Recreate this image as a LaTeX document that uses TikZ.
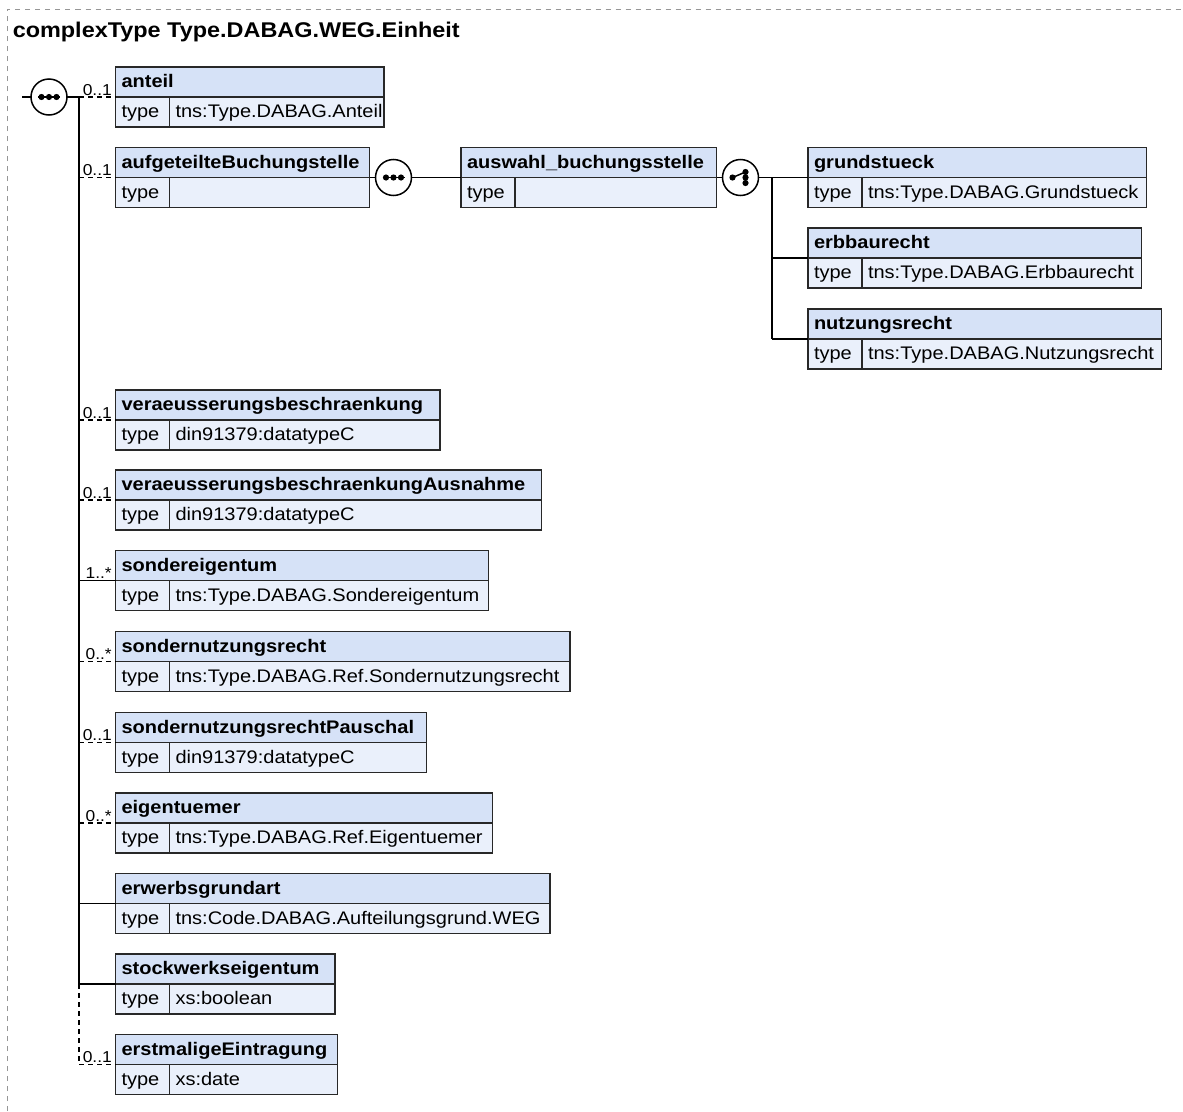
\documentclass[tikz,border=0pt]{standalone}
\usepackage{fontspec}
\setmainfont{Liberation Sans}[FakeStretch=1.1]
\definecolor{hdrblue}{RGB}{214,226,247}
\definecolor{bodyblue}{RGB}{234,240,251}
\definecolor{framegray}{RGB}{150,150,150}
\definecolor{boxline}{RGB}{40,40,40}

\begin{document}
\begin{tikzpicture}[x=1pt, y=-1pt, line width=1.5pt,
  every node/.style={font=\fontsize{18.2}{22}\selectfont},
  hdr/.style={draw=boxline, fill=hdrblue, anchor=north west, minimum height=30pt,
    inner xsep=6pt, inner ysep=0pt, outer sep=0pt, text height=14pt, text depth=3pt,
    font=\fontsize{18.2}{22}\selectfont\bfseries},
  tcell/.style={hdr, fill=bodyblue, text width=42pt, font=\fontsize{18.2}{22}\selectfont},
  val/.style={tcell},
  occ/.style={font=\fontsize{15.8}{18}\selectfont, inner sep=1pt, anchor=south east, xshift=-2pt},
  opt/.style={dash pattern=on 5pt off 4pt},
  seq/.style={circle, draw, fill=white, minimum size=36pt, inner sep=0pt, outer sep=0pt,
    path picture={
      \draw[black, line width=1.5pt] ([xshift=-11pt]path picture bounding box.center)
        -- ([xshift=11pt]path picture bounding box.center);
      \foreach \dx in {-7.5,0,7.5}
        \fill[black] ([xshift=\dx pt]path picture bounding box.center) circle (3.1pt);
    }},
  chc/.style={circle, draw, fill=white, minimum size=36pt, inner sep=0pt, outer sep=0pt,
    path picture={
      \draw[black, line width=1.5pt] ([xshift=-8pt]path picture bounding box.center)
        -- ([xshift=5pt,yshift=5.5pt]path picture bounding box.center);
      \fill[black] ([xshift=-8pt]path picture bounding box.center) circle (3.1pt);
      \foreach \dy in {-5.5,0,5.5}
        \fill[black] ([xshift=5pt,yshift=\dy pt]path picture bounding box.center) circle (3.1pt);
    }}]
  \useasboundingbox (0,0) rectangle (1183,1111);

  % frame and title
  \draw[framegray, line width=1pt, dash pattern=on 5pt off 5pt] (7,1111) -- (7,9.5) -- (1183,9.5);
  \node[anchor=base west, inner sep=0pt, font=\fontsize{21.3}{26}\selectfont\bfseries] (ttl) at (12,37)
    {complexType Type.DABAG.WEG.Einheit};

  % sequence
  \coordinate (cin) at (22,97);
  \node[seq] (seq1) at (49,97) {};
  \coordinate (trk) at (79,97);

  % elements
  \node[hdr, text width=256.5pt] (anteil) at (115.5,67) {anteil};
  \node[tcell] (anteil-t) at (anteil.south west) {type};
  \node[val, text width=202.5pt] (anteil-v) at (anteil-t.north east) {tns:Type.DABAG.Anteil};

  \node[hdr, text width=242pt] (aufg) at (115.5,147.5) {aufgeteilteBuchungstelle};
  \node[tcell] (aufg-t) at (aufg.south west) {type};
  \node[val, text width=188pt] (aufg-v) at (aufg-t.north east) {};

  \node[seq] (seq2) at (393.5,177.5) {};

  \node[hdr, text width=243.5pt] (ausw) at (461,147.5) {auswahl\_buchungsstelle};
  \node[tcell] (ausw-t) at (ausw.south west) {type};
  \node[val, text width=189.5pt] (ausw-v) at (ausw-t.north east) {};

  \node[chc] (chc) at (740.5,177.5) {};
  \coordinate (ctrk) at (772,177.5);

  \node[hdr, text width=326.5pt] (grund) at (808,147.5) {grundstueck};
  \node[tcell] (grund-t) at (grund.south west) {type};
  \node[val, text width=272.5pt] (grund-v) at (grund-t.north east) {tns:Type.DABAG.Grundstueck};

  \node[hdr, text width=321.5pt] (erb) at (808,228) {erbbaurecht};
  \node[tcell] (erb-t) at (erb.south west) {type};
  \node[val, text width=267.5pt] (erb-v) at (erb-t.north east) {tns:Type.DABAG.Erbbaurecht};

  \node[hdr, text width=341.5pt] (nutz) at (808,309) {nutzungsrecht};
  \node[tcell] (nutz-t) at (nutz.south west) {type};
  \node[val, text width=287.5pt] (nutz-v) at (nutz-t.north east) {tns:Type.DABAG.Nutzungsrecht};

  \node[hdr, text width=312.5pt] (verae) at (115.5,390) {veraeusserungsbeschraenkung};
  \node[tcell] (verae-t) at (verae.south west) {type};
  \node[val, text width=258.5pt] (verae-v) at (verae-t.north east) {din91379:datatypeC};

  \node[hdr, text width=414pt] (veraeA) at (115.5,470) {veraeusserungsbeschraenkungAusnahme};
  \node[tcell] (veraeA-t) at (veraeA.south west) {type};
  \node[val, text width=360pt] (veraeA-v) at (veraeA-t.north east) {din91379:datatypeC};

  \node[hdr, text width=361pt] (sonder) at (115.5,550.5) {sondereigentum};
  \node[tcell] (sonder-t) at (sonder.south west) {type};
  \node[val, text width=307pt] (sonder-v) at (sonder-t.north east) {tns:Type.DABAG.Sondereigentum};

  \node[hdr, text width=442.5pt] (sondn) at (115.5,631.5) {sondernutzungsrecht};
  \node[tcell] (sondn-t) at (sondn.south west) {type};
  \node[val, text width=388.5pt] (sondn-v) at (sondn-t.north east) {tns:Type.DABAG.Ref.Sondernutzungsrecht};

  \node[hdr, text width=299pt] (sondnP) at (115.5,712.5) {sondernutzungsrechtPauschal};
  \node[tcell] (sondnP-t) at (sondnP.south west) {type};
  \node[val, text width=245pt] (sondnP-v) at (sondnP-t.north east) {din91379:datatypeC};

  \node[hdr, text width=365pt] (eigen) at (115.5,793) {eigentuemer};
  \node[tcell] (eigen-t) at (eigen.south west) {type};
  \node[val, text width=311pt] (eigen-v) at (eigen-t.north east) {tns:Type.DABAG.Ref.Eigentuemer};

  \node[hdr, text width=422.5pt] (erwerb) at (115.5,873.5) {erwerbsgrundart};
  \node[tcell] (erwerb-t) at (erwerb.south west) {type};
  \node[val, text width=368.5pt] (erwerb-v) at (erwerb-t.north east) {tns:Code.DABAG.Aufteilungsgrund.WEG};

  \node[hdr, text width=207.5pt] (stock) at (115.5,954) {stockwerkseigentum};
  \node[tcell] (stock-t) at (stock.south west) {type};
  \node[val, text width=153.5pt] (stock-v) at (stock-t.north east) {xs:boolean};

  \node[hdr, text width=210pt] (erstm) at (115.5,1034.5) {erstmaligeEintragung};
  \node[tcell] (erstm-t) at (erstm.south west) {type};
  \node[val, text width=156pt] (erstm-v) at (erstm-t.north east) {xs:date};

  % connectors of the sequence
  \draw (cin) -- (seq1);
  \draw (seq1) -- (trk);
  \draw (trk) -- (trk |- stock.south west);
  \draw[opt] (trk |- stock.south west) -- (trk |- erstm.south west);
  \draw[opt] (trk) -- (anteil.south west) node[occ] {0..1};
  \draw[opt] (trk |- aufg.south west) -- (aufg.south west) node[occ] {0..1};
  \draw[opt] (trk |- verae.south west) -- (verae.south west) node[occ] {0..1};
  \draw[opt] (trk |- veraeA.south west) -- (veraeA.south west) node[occ] {0..1};
  \draw (trk |- sonder.south west) -- (sonder.south west) node[occ] {1..*};
  \draw[opt] (trk |- sondn.south west) -- (sondn.south west) node[occ] {0..*};
  \draw[opt] (trk |- sondnP.south west) -- (sondnP.south west) node[occ] {0..1};
  \draw[opt] (trk |- eigen.south west) -- (eigen.south west) node[occ] {0..*};
  \draw (trk |- erwerb.south west) -- (erwerb.south west);
  \draw (trk |- stock.south west) -- (stock.south west);
  \draw[opt] (trk |- erstm.south west) -- (erstm.south west) node[occ] {0..1};

  % connectors of the choice
  \draw (aufg.south east) -- (seq2);
  \draw (seq2) -- (ausw.south west);
  \draw (ausw.south east) -- (chc);
  \draw (chc) -- (ctrk);
  \draw (ctrk) -- (ctrk |- nutz.south west);
  \draw (ctrk) -- (grund.south west);
  \draw (ctrk |- erb.south west) -- (erb.south west);
  \draw (ctrk |- nutz.south west) -- (nutz.south west);
\end{tikzpicture}
\end{document}
